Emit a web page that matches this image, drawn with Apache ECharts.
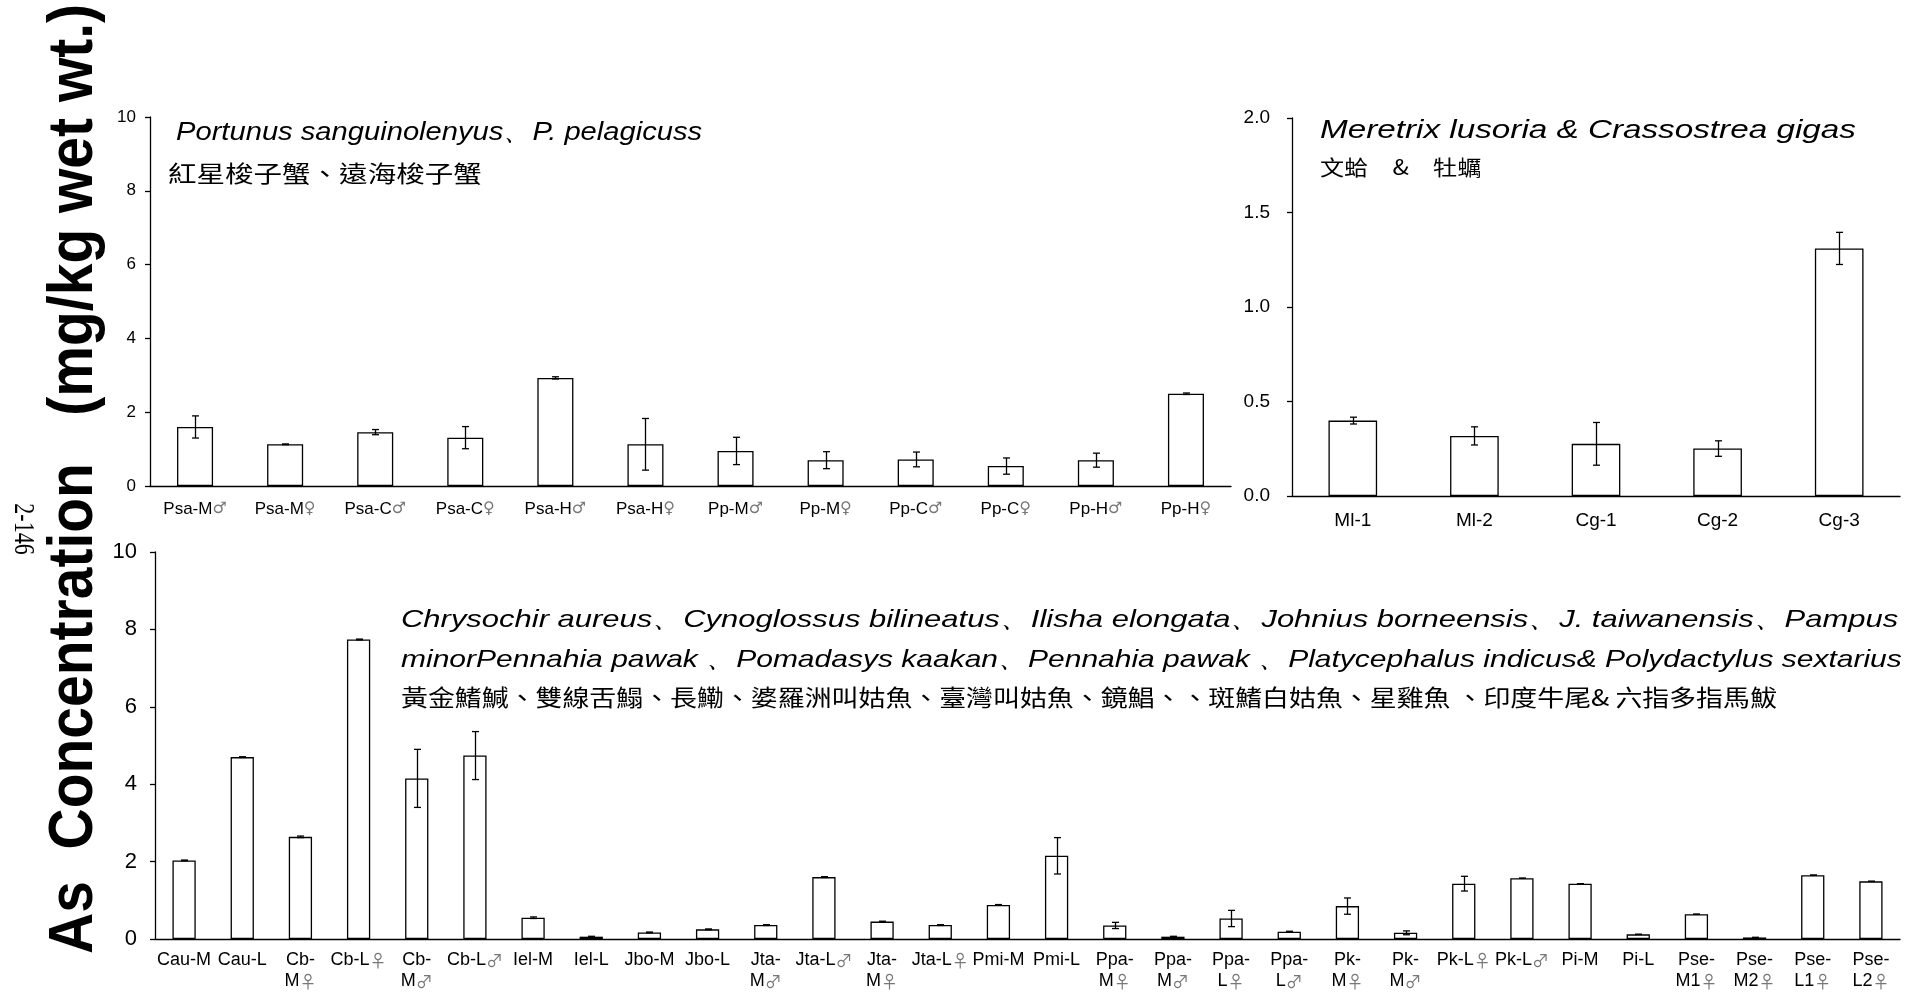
<!DOCTYPE html>
<html><head><meta charset="utf-8">
<script src="https://cdn.jsdelivr.net/npm/echarts@6/dist/echarts.min.js"></script>
<style>html,body{margin:0;padding:0;background:#fff}#c{width:1925px;height:993px}</style>
</head><body><div id="c"></div>
<script>
// ---- Data: crabs (top-left) ----
const crabCats = ['Psa-M♂','Psa-M♀','Psa-C♂','Psa-C♀','Psa-H♂','Psa-H♀','Pp-M♂','Pp-M♀','Pp-C♂','Pp-C♀','Pp-H♂','Pp-H♀'];
const crabVals = [1.60, 1.13, 1.46, 1.31, 2.93, 1.13, 0.95, 0.70, 0.72, 0.54, 0.70, 2.50];
const crabErr  = [0.30, 0.01, 0.07, 0.30, 0.03, 0.70, 0.37, 0.23, 0.20, 0.22, 0.19, 0.02];
const crabTicks = [0, 2, 4, 6, 8, 10];

// ---- Data: clam & oyster (top-right) ----
const shellCats = ['Ml-1','Ml-2','Cg-1','Cg-2','Cg-3'];
const shellVals = [0.399, 0.318, 0.276, 0.251, 1.31];
const shellErr  = [0.018, 0.048, 0.113, 0.041, 0.085];
const shellTicks = [0.0, 0.5, 1.0, 1.5, 2.0];

// ---- Data: fish (bottom) ----
const fishCats = ['Cau-M','Cau-L','Cb-\nM♀','Cb-L♀','Cb-\nM♂','Cb-L♂','Iel-M','Iel-L','Jbo-M','Jbo-L',
  'Jta-\nM♂','Jta-L♂','Jta-\nM♀','Jta-L♀','Pmi-M','Pmi-L','Ppa-\nM♀','Ppa-\nM♂','Ppa-\nL♀','Ppa-\nL♂',
  'Pk-\nM♀','Pk-\nM♂','Pk-L♀','Pk-L♂','Pi-M','Pi-L','Pse-\nM1♀','Pse-\nM2♀','Pse-\nL1♀','Pse-\nL2♀'];
const fishVals = [2.03, 4.70, 2.64, 7.74, 4.15, 4.74, 0.55, 0.06, 0.17, 0.25,
  0.36, 1.60, 0.45, 0.36, 0.88, 2.15, 0.35, 0.06, 0.53, 0.19,
  0.85, 0.16, 1.43, 1.57, 1.43, 0.12, 0.64, 0.04, 1.65, 1.49];
const fishErr  = [0.01, 0.01, 0.02, 0.01, 0.75, 0.62, 0.02, 0.01, 0.01, 0.01,
  0.01, 0.01, 0.01, 0.01, 0.01, 0.47, 0.08, 0.01, 0.21, 0.01,
  0.21, 0.05, 0.19, 0.00, 0.00, 0.00, 0.00, 0.00, 0.00, 0.00];
const fishTicks = [0, 2, 4, 6, 8, 10];

// ---- Texts ----
const yTitle = 'As  Concentration   (mg/kg wet wt.)';
const pageNo = '2-146';
const crabTitle = 'Portunus sanguinolenyus、P. pelagicuss';
const crabTitleZh = '紅星梭子蟹、遠海梭子蟹';
const shellTitle = 'Meretrix lusoria & Crassostrea gigas';
const shellTitleZh = '文蛤　&　牡蠣';
const fishTitle1 = 'Chrysochir aureus、Cynoglossus bilineatus、Ilisha elongata、Johnius borneensis、J. taiwanensis、Pampus';
const fishTitle2 = 'minorPennahia pawak 、Pomadasys kaakan、Pennahia pawak 、Platycephalus indicus& Polydactylus sextarius';
const fishTitleZh = '黃金鰭鰔、雙線舌鰨、長鰳、婆羅洲叫姑魚、臺灣叫姑魚、鏡鯧、、斑鰭白姑魚、星雞魚 、印度牛尾& 六指多指馬鮁';

const FONT = 'Liberation Sans, Arial, sans-serif';
const CJK = 'Noto Sans CJK TC, sans-serif';

function symLabel(v) {
  return v.split('\n').map(line => {
    const last = line.slice(-1);
    if (last === '♂' || last === '♀') return '{b|' + line.slice(0, -1) + '}{s|' + last + '}';
    return '{b|' + line + '}';
  }).join('\n');
}

function errRender(params, api) {
  const i = api.value(0), v = api.value(1), e = api.value(2);
  const hi = api.coord([i, v + e]);
  const lo = api.coord([i, v - e]);
  const x = Math.round(hi[0]) + 0.5;
  const cw = 3.5;
  const st = {stroke: '#000', lineWidth: 1.3};
  return {type: 'group', children: [
    {type: 'line', shape: {x1: x, y1: hi[1], x2: x, y2: lo[1]}, style: st},
    {type: 'line', shape: {x1: x - cw, y1: hi[1], x2: x + cw, y2: hi[1]}, style: st},
    {type: 'line', shape: {x1: x - cw, y1: lo[1], x2: x + cw, y2: lo[1]}, style: st}
  ]};
}

function xAxisCfg(gi, cats, fs, sfs, sfam, margin, lh) {
  return {type: 'category', gridIndex: gi, data: cats,
    axisLine: {lineStyle: {color: '#000', width: 1.3}}, axisTick: {show: false},
    axisLabel: {interval: 0, margin: margin, formatter: symLabel, lineHeight: lh,
      rich: {b: {fontFamily: FONT, fontSize: fs, color: '#000', lineHeight: lh},
             s: {fontFamily: sfam, fontSize: sfs, color: '#777', lineHeight: lh}}}};
}
function yAxisCfg(gi, ticks, fs, dec, margin) {
  return {type: 'value', gridIndex: gi, min: ticks[0], max: ticks[ticks.length - 1],
    interval: ticks[1] - ticks[0], splitLine: {show: false},
    axisLine: {show: true, lineStyle: {color: '#000', width: 1.3}},
    axisTick: {show: true, length: 5, lineStyle: {color: '#000', width: 1.3}},
    axisLabel: {fontFamily: FONT, fontSize: fs, color: '#000', margin: margin,
      formatter: v => dec ? v.toFixed(1) : String(v)}};
}
function barSeries(gi, vals) {
  return {type: 'bar', xAxisIndex: gi, yAxisIndex: gi, data: vals, barWidth: '40%',
    itemStyle: {color: '#fff', borderColor: '#000', borderWidth: 1.3}, silent: true, animation: false};
}
function errSeries(gi, vals, errs) {
  return {type: 'custom', xAxisIndex: gi, yAxisIndex: gi, renderItem: errRender,
    data: vals.map((v, i) => [i, v, errs[i]]), z: 5, silent: true, animation: false};
}
function txt(x, y, text, family, size, italic, sx) {
  return {type: 'text', x: x, y: y, scaleX: sx, originX: 0, originY: 0,
    style: {text: text, fontFamily: family, fontSize: size, fontStyle: italic ? 'italic' : 'normal',
            fill: '#000', verticalAlign: 'middle', textVerticalAlign: 'middle'}};
}

const chart = echarts.init(document.getElementById('c'), null, {renderer: 'canvas'});
chart.setOption({
  backgroundColor: '#fff',
  animation: false,
  grid: [
    {left: 150, width: 1081, top: 117, height: 369},
    {left: 1292, width: 608, top: 118, height: 378},
    {left: 155, width: 1745, top: 552, height: 387}
  ],
  xAxis: [
    xAxisCfg(0, crabCats, 17, 16, 'DejaVu Sans', 12, 22),
    xAxisCfg(1, shellCats, 19, 19, FONT, 14, 22),
    xAxisCfg(2, fishCats, 18, 17, CJK, 11, 21)
  ],
  yAxis: [
    yAxisCfg(0, crabTicks, 17, false, 14),
    yAxisCfg(1, shellTicks, 19, true, 22),
    yAxisCfg(2, fishTicks, 22, false, 18)
  ],
  series: [
    barSeries(0, crabVals), errSeries(0, crabVals, crabErr),
    barSeries(1, shellVals), errSeries(1, shellVals, shellErr),
    barSeries(2, fishVals), errSeries(2, fishVals, fishErr)
  ],
  graphic: [
    {type: 'text', x: 75, y: 479, rotation: Math.PI / 2, scaleY: 1.1,
     style: {text: yTitle, fontFamily: FONT, fontSize: 57, fontWeight: 'bold', fill: '#000',
             align: 'center', verticalAlign: 'middle', textAlign: 'center', textVerticalAlign: 'middle'}},
    {type: 'text', x: 23, y: 529, rotation: -Math.PI / 2, scaleY: 1.3,
     style: {text: pageNo, fontFamily: 'Liberation Serif, serif', fontSize: 22, fill: '#000',
             align: 'center', verticalAlign: 'middle', textAlign: 'center', textVerticalAlign: 'middle'}},
    txt(176, 133, crabTitle, FONT, 25, true, 1.166),
    txt(168, 173, crabTitleZh, CJK, 23, false, 1.24),
    txt(1320, 131, shellTitle, FONT, 25, true, 1.33),
    txt(1320, 167, shellTitleZh, CJK, 21, false, 1.15),
    txt(401, 620, fishTitle1, FONT, 24, true, 1.29),
    txt(401, 660, fishTitle2, FONT, 24, true, 1.25),
    txt(401, 697, fishTitleZh, CJK, 23, false, 1.17)
  ]
});
</script></body></html>
